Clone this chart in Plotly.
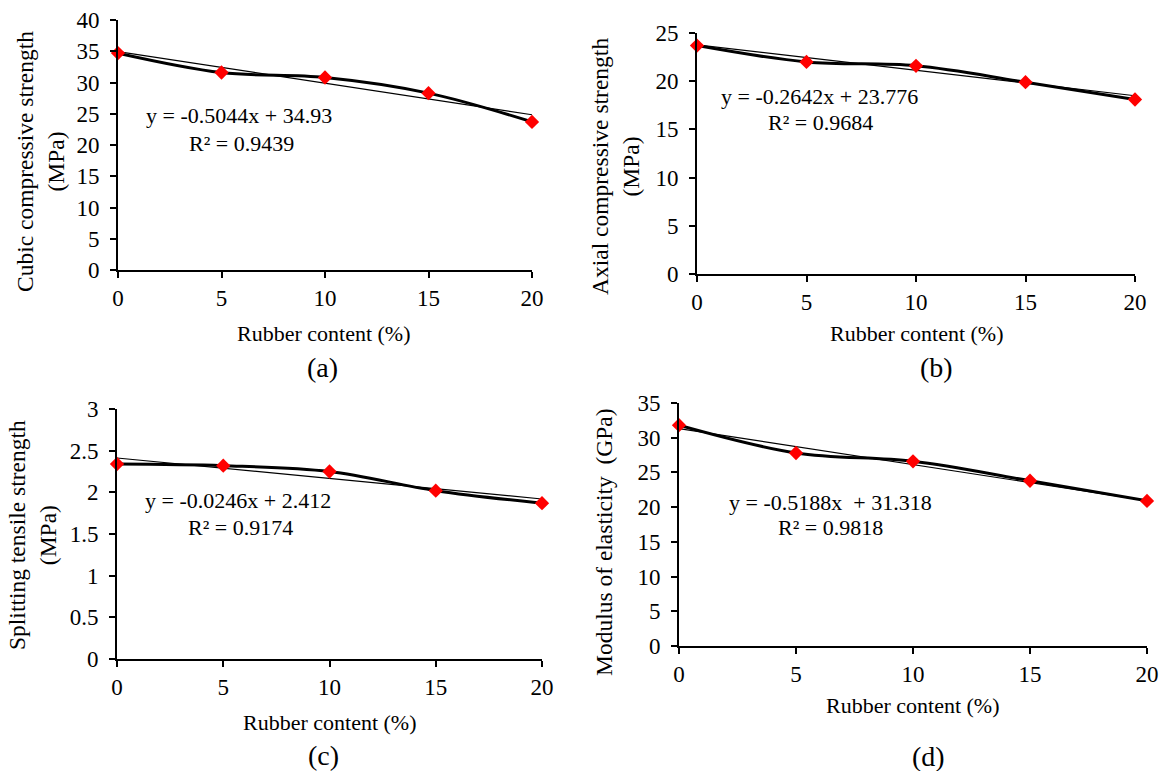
import plotly.graph_objects as go

# ---- data ----
rubber = [0, 5, 10, 15, 20]
cubic = [34.7, 31.6, 30.8, 28.3, 23.7]
axial = [23.7, 22.0, 21.6, 19.9, 18.1]
splitting = [2.34, 2.32, 2.25, 2.02, 1.87]
modulus = [31.8, 27.8, 26.6, 23.8, 20.9]

slopes = [-0.5044, -0.2642, -0.0246, -0.5188]
intercepts = [34.93, 23.776, 2.412, 31.318]
eq_lines = ["y = -0.5044x + 34.93",
            "y = -0.2642x + 23.776",
            "y = -0.0246x + 2.412",
            "y = -0.5188x  + 31.318"]
r2_lines = ["R² = 0.9439", "R² = 0.9684", "R² = 0.9174", "R² = 0.9818"]
y_titles = ["Cubic compressive strength<br>(MPa)",
            "Axial compressive strength<br>(MPa)",
            "Splitting tensile strength<br>(MPa)",
            "Modulus of elasticity  (GPa)"]
x_title = "Rubber content (%)"
panel_labels = ["(a)", "(b)", "(c)", "(d)"]
y_max = [40, 25, 3, 35]
y_dtick = [5, 5, 0.5, 5]
series = [cubic, axial, splitting, modulus]

W, H = 1164, 771
FONT = "Liberation Serif"


def fx(x):
    return x / W


def fy(y):
    return 1 - y / H


# pixel boxes of plot areas: (left, right, top, bottom)
boxes = [(118, 532, 20, 270), (697, 1135, 33, 274),
         (117, 542, 409, 659), (679, 1147, 403, 646)]
ytitle_pos = [(40, 162), (615, 167), (32, 535), (604, 542)]
xtitle_pos = [(324, 333), (917, 333), (330, 722), (913, 705)]
label_pos = [(322, 367), (936, 367), (323, 755), (928, 756)]
eq_pos = [(239, 115), (819, 96), (238, 500), (830, 502)]
r2_pos = [(241, 143), (820, 123), (240, 527), (830, 527)]

fig = go.Figure()
annotations = []


def ann(text, x, y, size, angle=0):
    annotations.append(dict(text=text, x=fx(x), y=fy(y), xref="paper", yref="paper",
                            showarrow=False, textangle=angle, xanchor="center",
                            yanchor="middle", align="center",
                            font=dict(family=FONT, size=size, color="black")))


for i in range(4):
    n = i + 1
    xa = "x" if n == 1 else f"x{n}"
    ya = "y" if n == 1 else f"y{n}"
    trend_y = [slopes[i] * rubber[0] + intercepts[i],
               slopes[i] * rubber[-1] + intercepts[i]]
    fig.add_trace(go.Scatter(x=[rubber[0], rubber[-1]], y=trend_y, mode="lines",
                             line=dict(color="black", width=1.2),
                             xaxis=xa, yaxis=ya, showlegend=False,
                             cliponaxis=False))
    fig.add_trace(go.Scatter(x=rubber, y=series[i], mode="lines+markers",
                             line=dict(color="black", width=3, shape="spline", smoothing=1),
                             marker=dict(symbol="diamond", size=11, color="#ff0000"),
                             xaxis=xa, yaxis=ya, showlegend=False,
                             cliponaxis=False))
    l, r, t, b = boxes[i]
    axis_common = dict(showline=True, linecolor="black", linewidth=2,
                       ticks="outside", ticklen=6, tickwidth=1.5, tickcolor="black",
                       showgrid=False, zeroline=False, automargin=False,
                       tickfont=dict(family=FONT, size=23, color="black"))
    fig.layout[f"xaxis{'' if n == 1 else n}"] = dict(
        domain=[fx(l), fx(r)], range=[0, 20], tick0=0, dtick=5,
        anchor=ya, ticklabelstandoff=0, **axis_common)
    fig.layout[f"yaxis{'' if n == 1 else n}"] = dict(
        domain=[fy(b), fy(t)], range=[0, y_max[i]], tick0=0, dtick=y_dtick[i],
        anchor=xa, ticklabelstandoff=6, **axis_common)

    ann(y_titles[i], *ytitle_pos[i], 23.5, -90)
    ann(x_title, *xtitle_pos[i], 22)
    ann(panel_labels[i], *label_pos[i], 28)
    ann(eq_lines[i], *eq_pos[i], 22)
    ann(r2_lines[i], *r2_pos[i], 22)

fig.update_layout(width=W, height=H, margin=dict(l=0, r=0, t=0, b=0, pad=0),
                  template="none",
                  paper_bgcolor="white", plot_bgcolor="white",
                  annotations=annotations, showlegend=False)

fig.write_html("out.html", config={"displayModeBar": False},
               post_script="document.body.style.margin='0';document.body.style.overflow='hidden';")
